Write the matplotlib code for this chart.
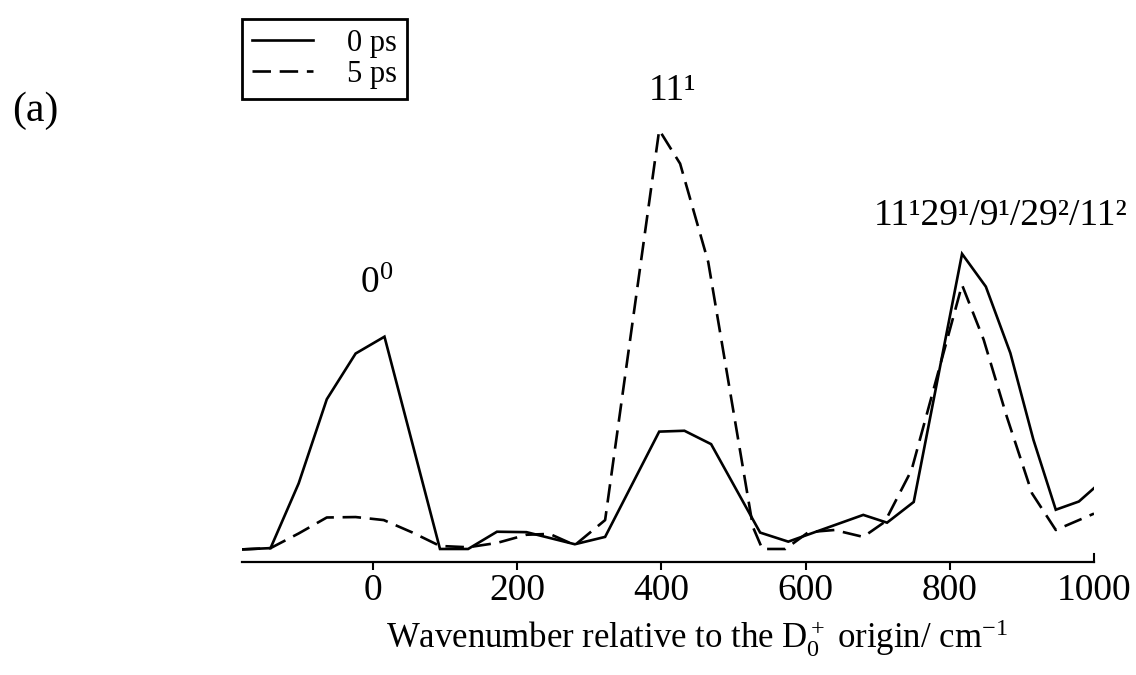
import matplotlib
matplotlib.use("Agg")
import matplotlib.pyplot as plt

plt.rcParams['font.family'] = ['Liberation Serif', 'DejaVu Serif']
plt.rcParams['mathtext.fontset'] = 'custom'
plt.rcParams['mathtext.rm'] = 'Liberation Serif'
plt.rcParams['mathtext.it'] = 'Liberation Serif:italic'

# ---- data ----
x_0ps = [-182, -142, -103, -64, -24, 16, 93, 132, 172, 213, 280, 322, 397, 432,
         469, 537, 576, 680, 713, 750, 817, 850, 884, 916, 947, 979, 1000]
y_0ps = [0.028, 0.031, 0.181, 0.376, 0.482, 0.521, 0.029, 0.029, 0.069, 0.068,
         0.040, 0.057, 0.301, 0.303, 0.272, 0.067, 0.046, 0.108, 0.090, 0.138,
         0.713, 0.637, 0.483, 0.282, 0.120, 0.139, 0.170]

x_5ps = [-182, -142, -103, -64, -24, 15, 55, 93, 132, 172, 213, 245, 280, 322,
         397, 426, 465, 527, 540, 572, 604, 640, 680, 710, 747, 817, 847, 879,
         914, 947, 1000]
y_5ps = [0.028, 0.031, 0.065, 0.102, 0.103, 0.096, 0.067, 0.036, 0.033, 0.043,
         0.062, 0.064, 0.038, 0.096, 1.000, 0.922, 0.694, 0.080, 0.029, 0.029,
         0.068, 0.073, 0.057, 0.092, 0.212, 0.641, 0.514, 0.336, 0.158, 0.073,
         0.111]

series_labels = ['0 ps', '5 ps']
xticks = [0, 200, 400, 600, 800, 1000]
peak_labels = ['0$^{0}$', '11\u00b9', '11\u00b929\u00b9/9\u00b9/29\u00b2/11\u00b2']
peak_pos = [(5, 0.622), (416, 1.069), (870, 0.780)]

# ---- figure ----
W, H = 1136, 675
fig = plt.figure(figsize=(W / 100, H / 100), dpi=100)
ax_left, ax_right = 241.7, 1094.0
ax_bottom, ax_top = 561.5, 110.0
ax = fig.add_axes([ax_left / W, 1 - ax_bottom / H,
                   (ax_right - ax_left) / W, (ax_bottom - ax_top) / H])

l0, = ax.plot(x_0ps, y_0ps, color='black', lw=1.9, solid_joinstyle='miter',
              label=series_labels[0])
l5, = ax.plot(x_5ps, y_5ps, color='black', lw=1.9, linestyle=(0, (7.0, 3.3)),
              label=series_labels[1])

ax.set_xlim(-182, 1000)
ax.set_ylim(0, (ax_bottom - ax_top) / 431.5)

for s in ['left', 'right', 'top']:
    ax.spines[s].set_visible(False)
ax.spines['bottom'].set_linewidth(1.6)
ax.set_yticks([])
ax.set_xticks(xticks)
ax.set_xticklabels([str(t) for t in xticks])
ax.tick_params(axis='x', direction='out', length=6, width=1.5, labelsize=27, pad=3)
# last tick points inward (upwards)
ax.xaxis.get_major_ticks()[-1].tick1line.set_visible(False)
ax.axvline(1000, ymin=0, ymax=8 / (ax_bottom - ax_top), color='black', lw=1.5,
           clip_on=False)

ax.set_xlabel('Wavenumber relative to the D$_0^+$ origin/ cm$^{-1}$', fontsize=25)
ax.xaxis.set_label_coords(0.534, -0.125)

for txt, (px, py) in zip(peak_labels, peak_pos):
    ax.text(px, py, txt, ha='center', va='baseline', fontsize=27, clip_on=False)

fig.text(12 / W, 1 - 121 / H, '(a)', fontsize=30, ha='left', va='baseline')

leg = ax.legend(handles=[l0, l5], loc='upper left',
                bbox_to_anchor=(242 / W, 1 - 19 / H), bbox_transform=fig.transFigure,
                borderaxespad=0, fontsize=22, frameon=True, fancybox=False,
                edgecolor='black', handlelength=2.0, handletextpad=1.1,
                labelspacing=0.05, borderpad=0.33)
leg.get_frame().set_linewidth(2.0)
leg.get_frame().set_alpha(1)

fig.savefig('out.png', dpi=100)
